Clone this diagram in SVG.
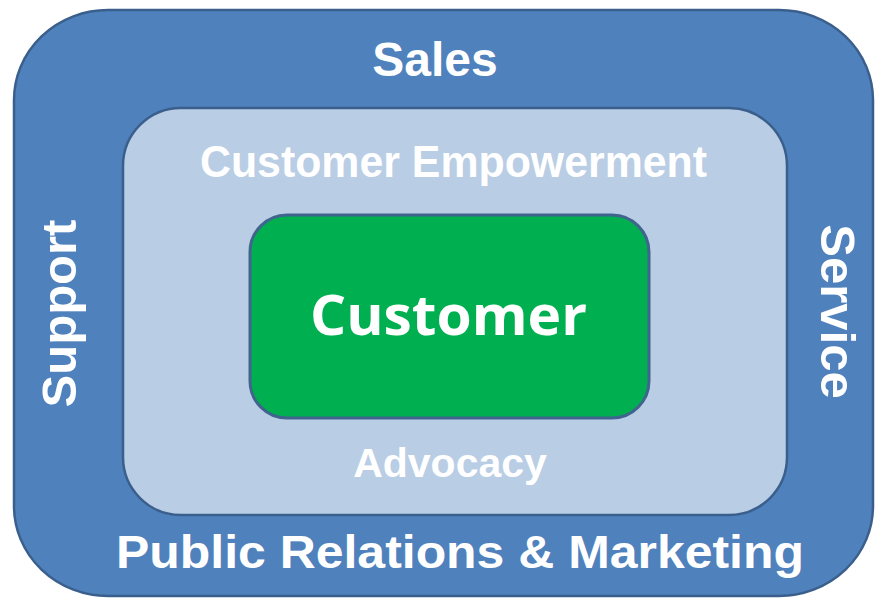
<svg xmlns="http://www.w3.org/2000/svg" width="875" height="598" viewBox="0 0 875 598">
  <style>
    .box { stroke: #3B5F8C; stroke-width: 2.5; }
    .outer { fill: #4F81BD; }
    .inner { fill: #B9CDE5; }
    .core { fill: #00B050; stroke: #41648F; stroke-width: 3; }
    .lbl { fill: #FFFFFF; font-family: "Liberation Sans", Arial, sans-serif; text-anchor: middle; }
    .bold { font-weight: bold; }
    .core-lbl { fill: #FFFFFF; font-family: "Open Sans", "Noto Sans", sans-serif; font-weight: bold; text-anchor: middle; }
  </style>

  <!-- outer ring: business functions -->
  <g id="outer">
    <rect class="box outer" x="14" y="10" width="859" height="586" rx="94" ry="90"/>
    <text class="lbl bold" x="435" y="76" font-size="48">Sales</text>
    <text class="lbl bold" x="0" y="0" font-size="49" transform="translate(76 313.5) rotate(-90)">Support</text>
    <text class="lbl bold" x="0" y="0" font-size="49" transform="translate(821 311.5) rotate(90)">Service</text>
    <text class="lbl bold" x="460" y="568" font-size="46" textLength="688" lengthAdjust="spacingAndGlyphs">Public Relations &amp; Marketing</text>
  </g>

  <!-- middle ring -->
  <g id="middle">
    <rect class="box inner" x="123" y="108" width="664" height="407" rx="58" ry="58"/>
    <text class="lbl bold" x="453.5" y="177" font-size="44" textLength="507" lengthAdjust="spacingAndGlyphs">Customer Empowerment</text>
    <text class="lbl bold" x="450" y="477" font-size="41">Advocacy</text>
  </g>

  <!-- centre -->
  <g id="customer">
    <rect class="core" x="250" y="215" width="399" height="203" rx="37" ry="37"/>
    <text class="core-lbl" x="448.5" y="335" font-size="56" textLength="277" lengthAdjust="spacingAndGlyphs">Customer</text>
  </g>
</svg>
